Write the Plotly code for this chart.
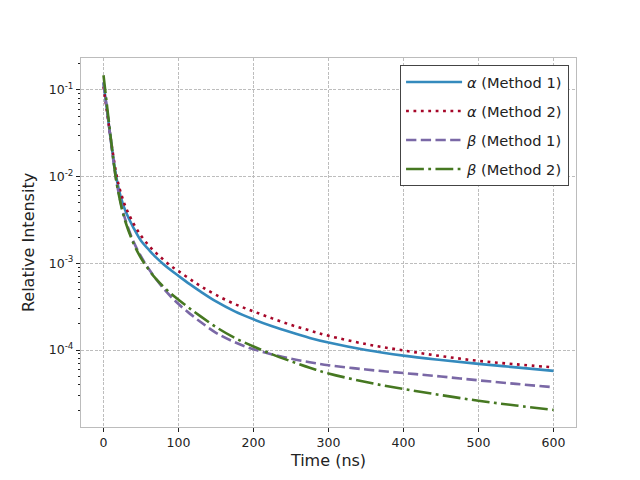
import plotly.graph_objects as go

time_ns = [0, 4, 8, 12, 16, 20, 25, 30, 40, 50, 60, 70, 80, 90, 100,
           115, 130, 150, 175, 200, 225, 250, 275, 300, 350, 400, 450, 500, 550, 600]

alpha_m1 = [0.1202, 0.0646, 0.0347, 0.0191, 0.01122, 0.00741, 0.00513, 0.00389, 0.00257, 0.00182,
            0.00145, 0.00117, 9.77e-4, 8.32e-4, 7.16e-4, 5.75e-4, 4.68e-4, 3.63e-4, 2.79e-4, 2.26e-4,
            1.88e-4, 1.60e-4, 1.38e-4, 1.22e-4, 1.00e-4, 8.61e-5, 7.67e-5, 6.92e-5, 6.31e-5, 5.75e-5]
alpha_m2 = [0.1096, 0.0617, 0.0347, 0.0200, 0.01202, 0.00813, 0.00575, 0.00437, 0.00288, 0.00209,
            0.00162, 0.00132, 0.00110, 9.33e-4, 8.13e-4, 6.61e-4, 5.43e-4, 4.32e-4, 3.39e-4, 2.79e-4,
            2.32e-4, 1.95e-4, 1.68e-4, 1.46e-4, 1.17e-4, 9.89e-5, 8.51e-5, 7.50e-5, 6.84e-5, 6.31e-5]
beta_m1 = [0.1230, 0.0661, 0.0347, 0.0182, 0.01023, 0.00661, 0.00427, 0.00302, 0.00178, 0.00120,
           8.71e-4, 6.61e-4, 5.13e-4, 4.12e-4, 3.39e-4, 2.63e-4, 2.09e-4, 1.58e-4, 1.23e-4, 1.02e-4,
           8.91e-5, 7.94e-5, 7.24e-5, 6.68e-5, 5.96e-5, 5.43e-5, 4.95e-5, 4.47e-5, 4.07e-5, 3.72e-5]
beta_m2 = [0.1479, 0.0741, 0.0372, 0.0191, 0.01023, 0.00646, 0.00407, 0.00288, 0.00170, 0.00115,
           8.51e-4, 6.61e-4, 5.37e-4, 4.47e-4, 3.80e-4, 3.02e-4, 2.43e-4, 1.84e-4, 1.38e-4, 1.10e-4,
           8.91e-5, 7.41e-5, 6.24e-5, 5.37e-5, 4.27e-5, 3.55e-5, 3.02e-5, 2.60e-5, 2.29e-5, 2.04e-5]

series_names = ["<i>α</i> (Method 1)", "<i>α</i> (Method 2)", "<i>β</i> (Method 1)", "<i>β</i> (Method 2)"]
series_values = [alpha_m1, alpha_m2, beta_m1, beta_m2]
colors = ["#348ABD", "#A60628", "#7A68A6", "#467821"]
dashes = ["solid", "2.8px,4.6px", "10.3px,4.4px", "17.8px,4.4px,2.8px,4.4px"]

x_ticks = [0, 100, 200, 300, 400, 500, 600]
y_ticks = [1e-4, 1e-3, 1e-2, 1e-1]
y_tick_text = ["10<sup>-4</sup>", "10<sup>-3</sup>", "10<sup>-2</sup>", "10<sup>-1</sup>"]

fig = go.Figure()
for i, (name, vals, color, dash) in enumerate(zip(series_names, series_values, colors, dashes)):
    fig.add_trace(go.Scatter(
        x=time_ns, y=vals, mode="lines", name=name,
        line=dict(color=color, width=2.6, dash=dash, shape="spline", smoothing=1.0),
        legendgroup=f"g{i}",
    ))

minor_vals = []
for e in range(-5, 0):
    for k in range(2, 10):
        minor_vals.append(k * 10 ** e)

grid = dict(showgrid=True, gridcolor="#bdbdbd", griddash="3px,1.5px", gridwidth=0.7)

fig.update_layout(
    width=640, height=480,
    margin=dict(l=73, r=72, t=50, b=61),
    paper_bgcolor="white", plot_bgcolor="white",
    font=dict(family="DejaVu Sans", size=12, color="#222222"),
    showlegend=True,
    legend=dict(
        x=0.986, y=0.981, xanchor="right", yanchor="top",
        bgcolor="white", bordercolor="#444444", borderwidth=1,
        font=dict(size=14.6, family="DejaVu Sans", color="#222222"),
        tracegroupgap=7, traceorder="grouped", itemwidth=56,
    ),
    xaxis=dict(
        range=[-30, 630], tickvals=x_ticks, ticks="outside", ticklen=4,
        tickcolor="#222222", **grid,
        showline=True, linecolor="#bcbcbc", linewidth=1.2, mirror=True,
        zeroline=False, tickfont=dict(size=12.5), automargin=False,
        title=dict(text="Time (ns)", font=dict(size=16), standoff=5),
    ),
    yaxis=dict(
        type="log", range=[-4.888, -0.631], tickvals=y_ticks, ticktext=y_tick_text,
        ticks="outside", ticklen=4, tickcolor="#222222", **grid,
        showline=True, linecolor="#bcbcbc", linewidth=1.2, mirror=True,
        zeroline=False, tickfont=dict(size=12.5), automargin=False,
        minor=dict(tickvals=minor_vals, ticks="outside", ticklen=2, tickcolor="#222222", showgrid=False),
        title=dict(text="Relative Intensity", font=dict(size=16), standoff=10),
    ),
)

fig.write_html("out.html")
